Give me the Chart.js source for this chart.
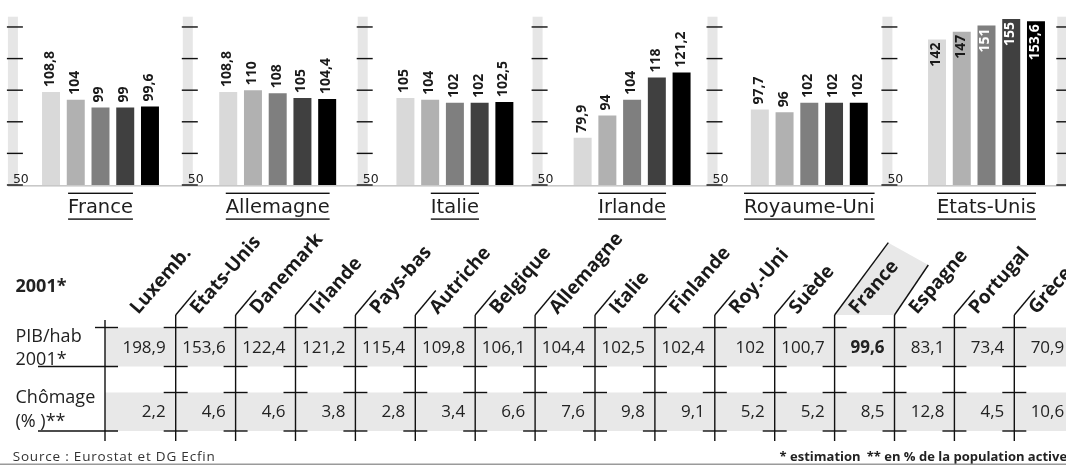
<!DOCTYPE html>
<html>
<head>
<meta charset="utf-8">
<script src="https://cdn.jsdelivr.net/npm/chart.js@4/dist/chart.umd.min.js"></script>
<style>
  html, body { margin: 0; padding: 0; background: #fff; overflow: hidden; }
  #wrap { position: relative; width: 1066px; height: 465px; overflow: hidden; background: #fff; }
  #wrap canvas { position: absolute; left: 0; }
  #bars { top: 0; }
  #table { top: 220px; }
</style>
</head>
<body>
<div id="wrap">
  <canvas id="bars" width="1090" height="230"></canvas>
  <canvas id="table" width="1090" height="245"></canvas>
</div>
<script>
// ---- PIB par habitant, panneaux par pays (5 périodes, la dernière = 2001) ----
const panelCountries = ['France', 'Allemagne', 'Italie', 'Irlande', 'Royaume-Uni', 'Etats-Unis'];
const periode1 = [108.8, 108.8, 105, 79.9, 97.7, 142];
const periode2 = [104, 110, 104, 94, 96, 147];
const periode3 = [99, 108, 102, 104, 102, 151];
const periode4 = [99, 105, 102, 118, 102, 155];
const periode2001 = [99.6, 104.4, 102.5, 121.2, 102, 153.6];
const periodColors = ['#d9d9d9', '#b1b1b1', '#7f7f7f', '#404040', '#000000'];
const yTickValues = [50, 70, 90, 110, 130, 150];

// ---- Tableau 2001 ----
const tableCountries = ['Luxemb.', 'Etats-Unis', 'Danemark', 'Irlande', 'Pays-bas', 'Autriche', 'Belgique',
  'Allemagne', 'Italie', 'Finlande', 'Roy.-Uni', 'Suède', 'France', 'Espagne', 'Portugal', 'Grèce'];
const pibHab2001 = [198.9, 153.6, 122.4, 121.2, 115.4, 109.8, 106.1, 104.4, 102.5, 102.4, 102, 100.7, 99.6, 83.1, 73.4, 70.9];
const chomage = [2.2, 4.6, 4.6, 3.8, 2.8, 3.4, 6.6, 7.6, 9.8, 9.1, 5.2, 5.2, 8.5, 12.8, 4.5, 10.6];
const highlighted = 'France';

const fmt = v => String(v).replace('.', ',');
const DV = '"DejaVu Sans", sans-serif';
const OS = '"Open Sans", "DejaVu Sans", sans-serif';

// Panel decoration: grey axis bands, ticks, "50" labels, baseline, value labels, country captions
const panelDecor = {
  id: 'panelDecor',
  beforeDatasetsDraw(chart) {
    const { ctx, scales: { x, y } } = chart;
    const cw = x.width / chart.data.labels.length;
    const first = x.getPixelForValue(0) - cw / 2;
    ctx.save();
    // baseline
    ctx.fillStyle = '#c8c8c8';
    ctx.fillRect(first - 4, y.bottom, 1100, 1.6);
    for (let i = 0; i <= chart.data.labels.length; i++) {
      const bx = first + i * cw - 4 - 2.3 * i;
      ctx.fillStyle = '#e6e6e6';
      ctx.fillRect(bx, y.top, 10, y.bottom - y.top);
      ctx.fillStyle = '#111';
      yTickValues.forEach(v => {
        const ty = y.getPixelForValue(v);
        ctx.fillRect(bx - 1, ty - 0.7, 16, 1.4);
      });
      if (i < chart.data.labels.length) {
        ctx.fillStyle = '#222';
        ctx.font = '12.5px ' + DV;
        ctx.textAlign = 'left';
        ctx.textBaseline = 'alphabetic';
        ctx.fillText(String(yTickValues[0]), bx + 5, y.bottom - 2.3);
      }
    }
    ctx.restore();
  },
  afterDatasetsDraw(chart) {
    const { ctx, chartArea, scales: { x } } = chart;
    ctx.save();
    ctx.font = 'bold 14px ' + OS;
    chart.data.datasets.forEach((ds, di) => {
      const meta = chart.getDatasetMeta(di);
      meta.data.forEach((bar, i) => {
        const txt = fmt(ds.data[i]);
        const w = ctx.measureText(txt).width;
        ctx.save();
        ctx.translate(bar.x, bar.y);
        ctx.rotate(-Math.PI / 2);
        ctx.textBaseline = 'middle';
        if (bar.y - 5 - w < chartArea.top) {
          ctx.textAlign = 'right';
          ctx.fillStyle = di >= 2 ? '#ffffff' : '#1a1a1a';
          ctx.fillText(txt, -3, -1);
        } else {
          ctx.textAlign = 'left';
          ctx.fillStyle = '#1a1a1a';
          ctx.fillText(txt, 5, -1);
        }
        ctx.restore();
      });
    });
    // country captions with over/under rules
    ctx.font = '19.5px ' + DV;
    ctx.textAlign = 'center';
    ctx.textBaseline = 'alphabetic';
    chart.data.labels.forEach((lab, i) => {
      const cx = x.getPixelForValue(i);
      const w = ctx.measureText(lab).width;
      ctx.fillStyle = '#1e1e1e';
      ctx.fillText(lab, cx, 212.7);
      ctx.fillStyle = '#111';
      ctx.fillRect(cx - w / 2, 192.6, w, 1.4);
      ctx.fillRect(cx - w / 2, 218.4, w, 1.4);
    });
    ctx.restore();
  }
};

// ---- Table ----
const T = 220; // canvas top offset on the page
const tableDraw = {
  id: 'tableDraw',
  afterDraw(chart) {
    const { ctx, scales: { x } } = chart;
    const n = chart.data.labels.length;
    const cw = x.width / n;
    const left = i => x.getPixelForValue(i) - cw / 2;
    const Y = v => v - T;
    const x0 = left(0) - 10.8;
    const rows = [[327.5, 366.5], [392.5, 431]];
    const hi = chart.data.labels.indexOf(highlighted);

    ctx.save();
    // grey row bands
    ctx.fillStyle = '#e8e8e8';
    rows.forEach(([a, b]) => ctx.fillRect(x0, Y(a), 1100, b - a));
    // highlighted header
    const L = left(hi), R = left(hi + 1);
    ctx.beginPath();
    ctx.moveTo(L, Y(315));
    ctx.lineTo(L + 53.7, Y(242.7));
    ctx.lineTo(R + 33.8, Y(265));
    ctx.lineTo(R, Y(315));
    ctx.closePath();
    ctx.fill();

    // lines
    ctx.strokeStyle = '#111';
    ctx.lineWidth = 1.4;
    const seg = (ax, ay, bx, by) => { ctx.beginPath(); ctx.moveTo(ax, Y(ay)); ctx.lineTo(bx, Y(by)); ctx.stroke(); };
    seg(x0, 320, x0, 441);
    seg(x0 - 10, 327.5, x0 + 13, 327.5);
    seg(38, 366.5, x0 + 13, 366.5);
    seg(38, 431, x0 + 13, 431);
    for (let i = 1; i < n; i++) {
      const b = left(i);
      seg(b, 315, b, 441);
      if (i === hi) seg(b, 315, b + 53.7, 242.7);
      else if (i === hi + 1) seg(b, 315, b + 33.8, 265);
      else seg(b, 315, b + 20.5, 290.5);
      [327.5, 366.5, 392.5, 431].forEach(yy => seg(b - 12, yy, b + 12, yy));
    }

    // values
    ctx.textAlign = 'right';
    ctx.textBaseline = 'alphabetic';
    ctx.fillStyle = '#222';
    chart.data.datasets.forEach((ds, di) => {
      const base = di === 0 ? 352.7 : 416.7;
      ds.data.forEach((v, i) => {
        ctx.font = (i === hi && di === 0 ? 'bold ' : '') + '17px ' + OS;
        ctx.fillText(fmt(v), left(i + 1) - 10, Y(base));
      });
    });

    // rotated country names
    ctx.font = 'bold 19px ' + OS;
    ctx.textAlign = 'left';
    ctx.fillStyle = '#1a1a1a';
    chart.data.labels.forEach((lab, i) => {
      ctx.save();
      ctx.translate(left(i) + 22.5, Y(315));
      ctx.rotate(-49 * Math.PI / 180);
      ctx.fillText(lab, 0, 0);
      ctx.restore();
    });

    // row headings
    ctx.fillStyle = '#222';
    ctx.font = 'bold 18px ' + OS;
    ctx.fillText('2001*', 15.5, Y(292));
    ctx.font = '18px ' + OS;
    ctx.fillText('PIB/hab', 15.5, Y(342.2));
    ctx.fillText('2001*', 15.5, Y(364.6));
    ctx.fillText('Chômage', 15.5, Y(402.5));
    ctx.fillText('(% )**', 15.5, Y(427));

    // footer
    ctx.fillStyle = '#333';
    ctx.font = '13.5px ' + OS;
    ctx.letterSpacing = '0.8px';
    ctx.fillText('Source : Eurostat et DG Ecfin', 12.7, Y(461));
    ctx.letterSpacing = '0px';
    ctx.font = 'bold 13px ' + OS;
    ctx.fillStyle = '#222';
    ctx.fillText('* estimation', 779.6, Y(461));
    ctx.fillText('** en % de la population active', 866.7, Y(461));
    ctx.fillStyle = '#9a9a9a';
    ctx.fillRect(0, Y(463.5), 1100, 1.5);
    ctx.restore();
  }
};

function build() {
  new Chart(document.getElementById('bars'), {
    type: 'bar',
    data: {
      labels: panelCountries,
      datasets: [periode1, periode2, periode3, periode4, periode2001].map((d, i) => ({
        label: i === 4 ? '2001' : 'période ' + (i + 1),
        data: d,
        backgroundColor: periodColors[i],
        borderWidth: 0,
        categoryPercentage: 0.698,
        barPercentage: 0.727
      }))
    },
    options: {
      responsive: false,
      animation: false,
      events: [],
      layout: { padding: { left: 11.9, right: 14.9, top: 16.7, bottom: 45 } },
      plugins: { legend: { display: false }, tooltip: { enabled: false } },
      scales: {
        x: { display: false },
        y: { display: false, min: 50, max: 156.5 }
      }
    },
    plugins: [panelDecor]
  });

  new Chart(document.getElementById('table'), {
    type: 'bar',
    data: {
      labels: tableCountries,
      datasets: [
        { label: 'PIB/hab 2001*', data: pibHab2001, backgroundColor: 'rgba(0,0,0,0)' },
        { label: 'Chômage (%)', data: chomage, backgroundColor: 'rgba(0,0,0,0)' }
      ]
    },
    options: {
      responsive: false,
      animation: false,
      events: [],
      layout: { padding: { left: 115.8, right: 15.8, top: 0, bottom: 0 } },
      plugins: { legend: { display: false }, tooltip: { enabled: false } },
      scales: { x: { display: false }, y: { display: false } }
    },
    plugins: [tableDraw]
  });
}

Promise.all([
  document.fonts.load('17px "Open Sans"'),
  document.fonts.load('bold 17px "Open Sans"'),
  document.fonts.load('19px "DejaVu Sans"')
]).catch(() => {}).then(build);
</script>
</body>
</html>
